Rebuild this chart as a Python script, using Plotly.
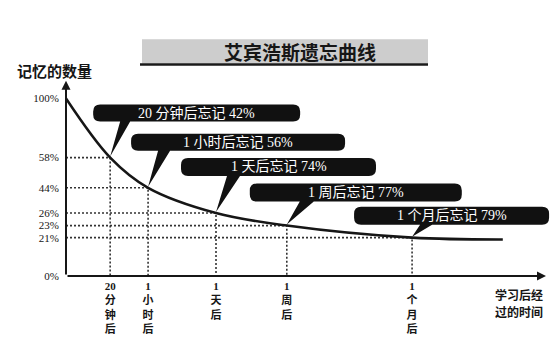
import numpy as np
import plotly.graph_objects as go

# ---------------- data ----------------
time_labels = ["20<br>分<br>钟<br>后", "1<br>小<br>时<br>后", "1<br>天<br>后",
               "1<br>周<br>后", "1<br>个<br>月<br>后"]
elapsed_min = [20, 60, 1440, 10080, 43200]          # 20 min, 1 h, 1 day, 1 week, 1 month
retained_pct = [58, 44, 26, 23, 21]
forgotten_pct = [42, 56, 74, 77, 79]
callout_prefix = ["20 分钟后", "1 小时后", "1 天后", "1 周后", "1 个月后"]
start_min, start_pct = 0, 100                        # curve starts at 100 %
tail_min, tail_pct = 86400, 20                       # curve keeps going past 1 month
y_tick_pct = [0, 21, 23, 26, 44, 58, 100]
y_tick_text = ["0%", "21%", "23%", "26%", "44%", "58%", "100%"]
x_title_lines = ["学习后经", "过的时间"]

# ---------------- schematic (non-proportional) axis scales of the textbook figure ----------------
X_SCALE_MIN = [0, 20, 60, 1440, 10080, 43200, 86400]
X_SCALE_POS = [0, 0.092, 0.171, 0.3125, 0.460, 0.721, 0.910]
Y_SCALE_PCT = [0, 21, 23, 26, 44, 58, 100]
Y_SCALE_POS = [0, 0.216, 0.284, 0.355, 0.497, 0.667, 1.0]


def sx(v):
    return np.interp(v, X_SCALE_MIN, X_SCALE_POS)


def sy(v):
    return np.interp(v, Y_SCALE_PCT, Y_SCALE_POS)


# ---------------- layout constants ----------------
W, H = 558, 340
ML, MR, MT, MB = 66, 5, 81, 58
PX_X = 480.0   # pixels per x-scale unit
PX_Y = 183.0   # pixels per y-scale unit
X_MAX = (W - ML - MR) / PX_X
Y_MAX = (H - MT - MB) / PX_Y

SERIF = "Liberation Serif, Noto Sans CJK SC"
SANS = "Noto Sans CJK SC"
INK = "#161616"


def paper_x(px):
    return (px - ML) / (W - ML - MR)


def paper_y(py):
    return (H - MB - py) / (H - MT - MB)


fig = go.Figure()

# dotted guide lines from each reading down to the axes
for m, r in zip(elapsed_min, retained_pct):
    fig.add_trace(go.Scatter(
        x=[0, sx(m), sx(m)], y=[sy(r), sy(r), 0], mode="lines",
        line=dict(color="#333333", width=1.6, dash="2px,2px"),
        hoverinfo="skip", showlegend=False))

# forgetting curve
curve_min = [start_min] + elapsed_min + [tail_min]
curve_pct = [start_pct] + retained_pct + [tail_pct]
fig.add_trace(go.Scatter(
    x=sx(curve_min), y=sy(curve_pct), mode="lines",
    line=dict(color=INK, width=2.6, shape="spline", smoothing=1.0),
    hoverinfo="skip", showlegend=False))

# callout geometry (pixels relative to the pointed reading, y up): L, R, T, B, wedge a, wedge b
CALLOUT_BOX = [
    (-17, 190, 53, 36, 10, 20),
    (-17, 197, 54, 37, 10, 22),
    (-35, 160, 55, 37, 11, 24),
    (-37, 175, 42, 24, 13, 27),
    (-58, 137, 31, 13, 8, 20),
]
RAD = 7
shapes = []
annotations = []
for m, r, pre, f, (L, R, T, B, wa, wb) in zip(elapsed_min, retained_pct, callout_prefix,
                                             forgotten_pct, CALLOUT_BOX):
    tx, ty = 0, 1
    path = (f"M {L+RAD},{T} L {R-RAD},{T} Q {R},{T} {R},{T-RAD} L {R},{B+RAD} "
            f"Q {R},{B} {R-RAD},{B} L {wb},{B} L {tx},{ty} L {wa},{B} L {L+RAD},{B} "
            f"Q {L},{B} {L},{B+RAD} L {L},{T-RAD} Q {L},{T} {L+RAD},{T} Z")
    shapes.append(dict(type="path", xref="x", yref="y", xsizemode="pixel", ysizemode="pixel",
                       xanchor=float(sx(m)), yanchor=float(sy(r)), path=path,
                       fillcolor="#111111", line=dict(width=0), layer="above"))
    annotations.append(dict(x=float(sx(m)), y=float(sy(r)), xref="x", yref="y",
                            xshift=(L + R) / 2, yshift=(T + B) / 2, showarrow=False,
                            text=f"{pre}忘记 {f}%", xanchor="center", yanchor="middle",
                            font=dict(family=SERIF, size=14, color="white")))

# axes drawn as arrows
annotations.append(dict(x=1.0, y=0, ax=0, ay=0, xref="x", yref="y", axref="x", ayref="y",
                        text="", showarrow=True, arrowhead=2, arrowsize=0.9, arrowwidth=2,
                        arrowcolor=INK, standoff=0))
annotations.append(dict(x=0, y=1.1, ax=0, ay=0, xref="x", yref="y", axref="x", ayref="y",
                        text="", showarrow=True, arrowhead=2, arrowsize=0.9, arrowwidth=2,
                        arrowcolor=INK, standoff=0))

# title box
shapes.append(dict(type="rect", xref="paper", yref="paper",
                   x0=paper_x(142), x1=paper_x(428), y0=paper_y(63), y1=paper_y(38),
                   fillcolor="#cdcdcd", line=dict(width=0), layer="below"))
shapes.append(dict(type="line", xref="paper", yref="paper",
                   x0=paper_x(140), x1=paper_x(428), y0=paper_y(64), y1=paper_y(64),
                   line=dict(color="#1a1a1a", width=2.5)))
annotations.append(dict(x=paper_x(300), y=paper_y(50.5), xref="paper", yref="paper",
                        text="艾宾浩斯遗忘曲线", showarrow=False, xanchor="center", yanchor="middle",
                        font=dict(family=SANS, size=19, color=INK, weight="bold")))

# axis titles
annotations.append(dict(x=paper_x(15), y=paper_y(70), xref="paper", yref="paper",
                        text="记忆的数量", showarrow=False, xanchor="left", yanchor="middle",
                        font=dict(family=SANS, size=15, color=INK, weight="bold")))
for line_text, cy in zip(x_title_lines, [301, 319]):
    annotations.append(dict(x=paper_x(519), y=paper_y(cy), xref="paper", yref="paper",
                            text=line_text, showarrow=False, xanchor="center", yanchor="middle",
                            font=dict(family=SANS, size=12, color=INK, weight="bold")))

fig.update_layout(
    width=W, height=H, margin=dict(l=ML, r=MR, t=MT, b=MB),
    paper_bgcolor="white", plot_bgcolor="white",
    shapes=shapes, annotations=annotations, showlegend=False,
    xaxis=dict(range=[0, X_MAX], showgrid=False, zeroline=False, showline=False,
               tickvals=[float(v) for v in sx(elapsed_min)], ticktext=time_labels,
               ticks="", ticklabelstandoff=2,
               tickfont=dict(family=SERIF, size=11, color=INK, weight="bold"), fixedrange=True),
    yaxis=dict(range=[0, Y_MAX], showgrid=False, zeroline=False, showline=False,
               tickvals=[float(v) for v in sy(y_tick_pct)], ticktext=y_tick_text,
               ticks="", ticklabelstandoff=6,
               tickfont=dict(family=SERIF, size=11, color=INK), fixedrange=True),
)

fig.write_html("out.html")
